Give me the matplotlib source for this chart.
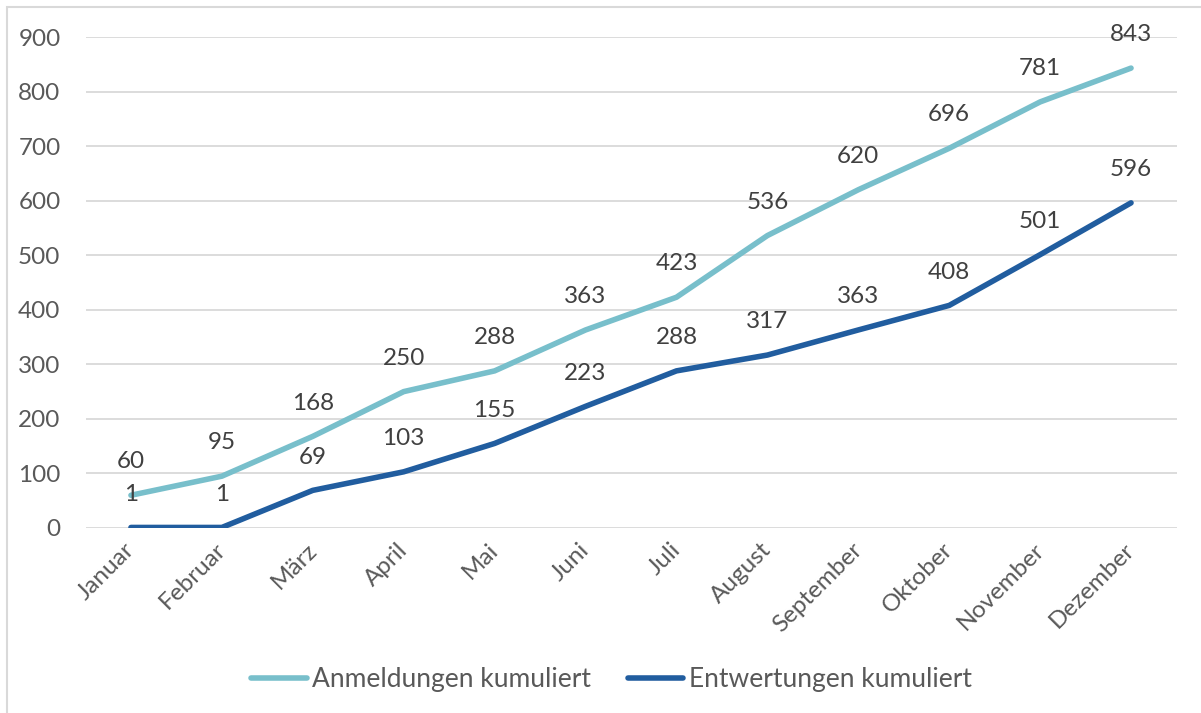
import matplotlib.pyplot as plt
import matplotlib.transforms as mtransforms
from matplotlib.patches import Rectangle

# data
months = ['Januar', 'Februar', 'März', 'April', 'Mai', 'Juni', 'Juli',
          'August', 'September', 'Oktober', 'November', 'Dezember']
anmeldungen = [60, 95, 168, 250, 288, 363, 423, 536, 620, 696, 781, 843]
entwertungen = [1, 1, 69, 103, 155, 223, 288, 317, 363, 408, 501, 596]
yticks = [0, 100, 200, 300, 400, 500, 600, 700, 800, 900]

light = '#78BFCB'
dark = '#215D9F'
txt = '#404040'
tick_txt = '#595959'

plt.rcParams['font.family'] = ['Lato', 'DejaVu Sans']

W, H = 1201, 713
fig = plt.figure(figsize=(W / 100, H / 100), dpi=100)
ax = fig.add_axes([85.5 / W, 1 - 528 / H, 1091 / W, 491 / H])

x = list(range(len(months)))
ax.plot(x, anmeldungen, color=light, lw=4, solid_capstyle='round',
        label='Anmeldungen kumuliert', zorder=3)
ax.plot(x, entwertungen, color=dark, lw=4, solid_capstyle='round',
        label='Entwertungen kumuliert', zorder=3)

# value labels above the points
for xi, v in zip(x, anmeldungen):
    ax.annotate(str(v), (xi, v), xytext=(0, 24), textcoords='offset points',
                ha='center', va='center', fontsize=17.5, color=txt, zorder=4)
for xi, v in zip(x, entwertungen):
    ax.annotate(str(v), (xi, v), xytext=(0, 24), textcoords='offset points',
                ha='center', va='center', fontsize=17.5, color=txt, zorder=4)

ax.set_xlim(-0.5, 11.5)
ax.set_ylim(0, 900)
ax.set_yticks(yticks)
ax.set_xticks(x)
ax.set_xticklabels(months, rotation=45, ha='right', rotation_mode='anchor')
ax.tick_params(axis='both', length=0, labelsize=17.5, labelcolor=tick_txt)
ax.tick_params(axis='y', pad=18)
ax.tick_params(axis='x', pad=8)
# nudge month labels a little to the left
shift = mtransforms.ScaledTranslation(-7 / 100, 0, fig.dpi_scale_trans)
for lab in ax.get_xticklabels():
    lab.set_transform(lab.get_transform() + shift)
ax.grid(axis='y', color='#D9D9D9', lw=1.3, zorder=0)
for s in ax.spines.values():
    s.set_visible(False)

ax.legend(loc='center', bbox_to_anchor=(0.482, (528 - 680) / 491), ncol=2,
          frameon=False, fontsize=19, handlelength=2.1, handletextpad=0.2,
          columnspacing=1.4, labelcolor=tick_txt)

# light frame around the chart
fig.patches.append(Rectangle((7 / W, -0.05), 1.1, 1 - 7 / H + 0.05,
                             transform=fig.transFigure, fill=False,
                             edgecolor='#D9D9D9', lw=1.5))

fig.savefig('out.png', dpi=100)
